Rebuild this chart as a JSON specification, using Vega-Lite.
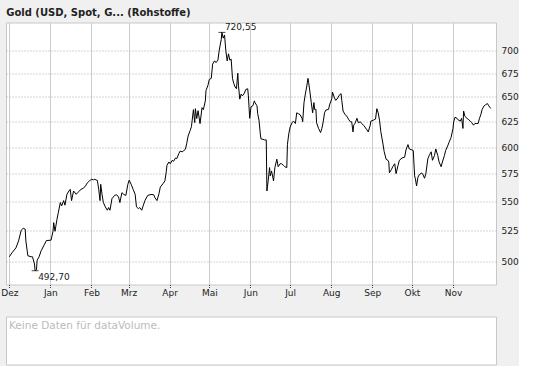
{
  "$schema": "https://vega.github.io/schema/vega-lite/v6.json",
  "background": "#f0f0f0",
  "padding": {"left": 0, "top": 7.5, "right": 0, "bottom": 0},
  "title": {"text": "Gold (USD, Spot, G... (Rohstoffe)", "anchor": "start", "dx": 6, "font": "DejaVu Sans", "fontSize": 10, "fontWeight": "bold", "color": "#222222", "offset": 4},
  "config": {
    "font": "DejaVu Sans",
    "view": {"stroke": "#c8c8c8", "fill": "white"}
  },
  "spacing": 18,
  "datasets": {
    "gold": [
      {"t": "2005-12-01", "v": 503.8}, {"t": "2005-12-03", "v": 507}, {"t": "2005-12-06", "v": 511}, {"t": "2005-12-08", "v": 516.7},
      {"t": "2005-12-10", "v": 525.6}, {"t": "2005-12-11T12:00Z", "v": 527.2}, {"t": "2005-12-13", "v": 526.5}, {"t": "2005-12-13T12:00Z", "v": 516.7},
      {"t": "2005-12-14T12:00Z", "v": 508.6}, {"t": "2005-12-15", "v": 504.6}, {"t": "2005-12-17T12:00Z", "v": 503.8}, {"t": "2005-12-18T12:00Z", "v": 503.8},
      {"t": "2005-12-20", "v": 498}, {"t": "2005-12-20T12:00Z", "v": 492.7}, {"t": "2005-12-21T12:00Z", "v": 493.4}, {"t": "2005-12-22", "v": 501},
      {"t": "2005-12-23T12:00Z", "v": 503.8}, {"t": "2005-12-25", "v": 508.6}, {"t": "2005-12-27", "v": 512.7}, {"t": "2005-12-29", "v": 517},
      {"t": "2006-01-01T12:00Z", "v": 517.3}, {"t": "2006-01-03", "v": 524.7}, {"t": "2006-01-03T12:00Z", "v": 532}, {"t": "2006-01-04T12:00Z", "v": 524.7},
      {"t": "2006-01-06", "v": 534.9}, {"t": "2006-01-07", "v": 540.6}, {"t": "2006-01-08T12:00Z", "v": 549.3}, {"t": "2006-01-09T12:00Z", "v": 546.3},
      {"t": "2006-01-11", "v": 551}, {"t": "2006-01-12", "v": 547}, {"t": "2006-01-13T12:00Z", "v": 556.6}, {"t": "2006-01-15", "v": 559.5},
      {"t": "2006-01-16", "v": 561}, {"t": "2006-01-17", "v": 551}, {"t": "2006-01-18T12:00Z", "v": 559.5}, {"t": "2006-01-20T12:00Z", "v": 556.6},
      {"t": "2006-01-21T12:00Z", "v": 558}, {"t": "2006-01-23", "v": 559.5}, {"t": "2006-01-24", "v": 561}, {"t": "2006-01-26", "v": 562},
      {"t": "2006-01-27T12:00Z", "v": 564}, {"t": "2006-01-29", "v": 567}, {"t": "2006-01-30T12:00Z", "v": 568.6},
      {"t": "2006-02-01", "v": 570}, {"t": "2006-02-02T12:00Z", "v": 569.6}, {"t": "2006-02-03T12:00Z", "v": 570}, {"t": "2006-02-05T12:00Z", "v": 569},
      {"t": "2006-02-06T12:00Z", "v": 561}, {"t": "2006-02-07T12:00Z", "v": 551}, {"t": "2006-02-08", "v": 565.5}, {"t": "2006-02-09", "v": 556.6},
      {"t": "2006-02-10", "v": 549.3}, {"t": "2006-02-11T12:00Z", "v": 545.5}, {"t": "2006-02-13", "v": 542.6}, {"t": "2006-02-14", "v": 544.9},
      {"t": "2006-02-15", "v": 542.6}, {"t": "2006-02-16T12:00Z", "v": 552.7}, {"t": "2006-02-18T12:00Z", "v": 555.6}, {"t": "2006-02-20", "v": 556.2},
      {"t": "2006-02-21T12:00Z", "v": 554.1}, {"t": "2006-02-22T12:00Z", "v": 549.3}, {"t": "2006-02-24", "v": 558}, {"t": "2006-02-25T12:00Z", "v": 556.4},
      {"t": "2006-02-27", "v": 555.6}, {"t": "2006-02-28T12:00Z", "v": 565.5},
      {"t": "2006-03-01T12:00Z", "v": 569.2}, {"t": "2006-03-03", "v": 565.5}, {"t": "2006-03-04T12:00Z", "v": 561}, {"t": "2006-03-06", "v": 556.6},
      {"t": "2006-03-07", "v": 545.5}, {"t": "2006-03-08T12:00Z", "v": 544}, {"t": "2006-03-09T12:00Z", "v": 544.9}, {"t": "2006-03-11", "v": 542.6},
      {"t": "2006-03-12", "v": 546.3}, {"t": "2006-03-13T12:00Z", "v": 551.3}, {"t": "2006-03-15T12:00Z", "v": 555.6}, {"t": "2006-03-18", "v": 556.4},
      {"t": "2006-03-20", "v": 556.2}, {"t": "2006-03-21", "v": 553.5}, {"t": "2006-03-22T12:00Z", "v": 551}, {"t": "2006-03-24", "v": 557.1},
      {"t": "2006-03-25", "v": 563}, {"t": "2006-03-27", "v": 566}, {"t": "2006-03-28T12:00Z", "v": 568.6}, {"t": "2006-03-29T12:00Z", "v": 577},
      {"t": "2006-03-30", "v": 582.8}, {"t": "2006-03-31T12:00Z", "v": 586},
      {"t": "2006-04-01T12:00Z", "v": 584.4}, {"t": "2006-04-03", "v": 587.6}, {"t": "2006-04-04", "v": 586.6}, {"t": "2006-04-05T12:00Z", "v": 589.8},
      {"t": "2006-04-06T12:00Z", "v": 589.2}, {"t": "2006-04-08", "v": 594}, {"t": "2006-04-09", "v": 596.3}, {"t": "2006-04-10T12:00Z", "v": 595.6},
      {"t": "2006-04-11T12:00Z", "v": 596.3}, {"t": "2006-04-13", "v": 598.3}, {"t": "2006-04-14", "v": 603.9}, {"t": "2006-04-15", "v": 610.8},
      {"t": "2006-04-16T12:00Z", "v": 616}, {"t": "2006-04-17T12:00Z", "v": 620}, {"t": "2006-04-19", "v": 637}, {"t": "2006-04-20", "v": 624},
      {"t": "2006-04-20T12:00Z", "v": 638}, {"t": "2006-04-21T12:00Z", "v": 628}, {"t": "2006-04-22T12:00Z", "v": 636}, {"t": "2006-04-24", "v": 623},
      {"t": "2006-04-25T12:00Z", "v": 639}, {"t": "2006-04-26T12:00Z", "v": 637}, {"t": "2006-04-28", "v": 646}, {"t": "2006-04-28T12:00Z", "v": 656.7},
      {"t": "2006-04-30", "v": 662.3},
      {"t": "2006-05-01", "v": 668.5}, {"t": "2006-05-02T12:00Z", "v": 669.6}, {"t": "2006-05-03T12:00Z", "v": 685}, {"t": "2006-05-05", "v": 688.6},
      {"t": "2006-05-06", "v": 686.7}, {"t": "2006-05-07T12:00Z", "v": 689.3}, {"t": "2006-05-08T12:00Z", "v": 700.5}, {"t": "2006-05-10", "v": 712.3},
      {"t": "2006-05-10T12:00Z", "v": 720.55}, {"t": "2006-05-11T12:00Z", "v": 714}, {"t": "2006-05-12T12:00Z", "v": 717.5}, {"t": "2006-05-13T12:00Z", "v": 699.5},
      {"t": "2006-05-14T12:00Z", "v": 688.6}, {"t": "2006-05-15T12:00Z", "v": 696.3}, {"t": "2006-05-16T12:00Z", "v": 689.3}, {"t": "2006-05-17T12:00Z", "v": 690.5},
      {"t": "2006-05-18T12:00Z", "v": 669.6}, {"t": "2006-05-19T12:00Z", "v": 664}, {"t": "2006-05-20T12:00Z", "v": 660.4}, {"t": "2006-05-21T12:00Z", "v": 658.6},
      {"t": "2006-05-22T12:00Z", "v": 675.2}, {"t": "2006-05-23", "v": 662.3}, {"t": "2006-05-24", "v": 647.8}, {"t": "2006-05-25", "v": 653},
      {"t": "2006-05-26", "v": 651.2}, {"t": "2006-05-27T12:00Z", "v": 654}, {"t": "2006-05-28T12:00Z", "v": 657.8}, {"t": "2006-05-30", "v": 658.6},
      {"t": "2006-05-30T12:00Z", "v": 651.2}, {"t": "2006-05-31T12:00Z", "v": 628.3},
      {"t": "2006-06-01T12:00Z", "v": 639.8}, {"t": "2006-06-03", "v": 641.2}, {"t": "2006-06-04", "v": 646}, {"t": "2006-06-04T12:00Z", "v": 644.2},
      {"t": "2006-06-06", "v": 640.9}, {"t": "2006-06-06T12:00Z", "v": 633.3}, {"t": "2006-06-07T12:00Z", "v": 626.5}, {"t": "2006-06-08T12:00Z", "v": 612.8},
      {"t": "2006-06-09", "v": 608}, {"t": "2006-06-10T12:00Z", "v": 607.6}, {"t": "2006-06-11T12:00Z", "v": 607}, {"t": "2006-06-13", "v": 607},
      {"t": "2006-06-13T12:00Z", "v": 559.5}, {"t": "2006-06-14T12:00Z", "v": 569.2}, {"t": "2006-06-15T12:00Z", "v": 580.8}, {"t": "2006-06-16", "v": 573.1},
      {"t": "2006-06-17", "v": 577.7}, {"t": "2006-06-18T12:00Z", "v": 568.6}, {"t": "2006-06-19T12:00Z", "v": 580.8}, {"t": "2006-06-21", "v": 588.6},
      {"t": "2006-06-22", "v": 581.6}, {"t": "2006-06-23T12:00Z", "v": 584.4}, {"t": "2006-06-24T12:00Z", "v": 584.4}, {"t": "2006-06-26", "v": 582.8},
      {"t": "2006-06-27", "v": 581.6}, {"t": "2006-06-28T12:00Z", "v": 580.8}, {"t": "2006-06-29", "v": 602.8}, {"t": "2006-06-30", "v": 612.8},
      {"t": "2006-07-01", "v": 619.6}, {"t": "2006-07-02T12:00Z", "v": 623.8}, {"t": "2006-07-03T12:00Z", "v": 625.5}, {"t": "2006-07-05", "v": 623.1},
      {"t": "2006-07-06", "v": 633.8}, {"t": "2006-07-07T12:00Z", "v": 632.7}, {"t": "2006-07-08T12:00Z", "v": 632}, {"t": "2006-07-10", "v": 628.3},
      {"t": "2006-07-10T12:00Z", "v": 624.8}, {"t": "2006-07-11T12:00Z", "v": 644.2}, {"t": "2006-07-12T12:00Z", "v": 653}, {"t": "2006-07-13T12:00Z", "v": 660.4},
      {"t": "2006-07-14T12:00Z", "v": 669.6}, {"t": "2006-07-15", "v": 665.2}, {"t": "2006-07-16", "v": 655.1}, {"t": "2006-07-17", "v": 644.2},
      {"t": "2006-07-18", "v": 633.8}, {"t": "2006-07-19", "v": 644.2}, {"t": "2006-07-19T12:00Z", "v": 637.3}, {"t": "2006-07-20T12:00Z", "v": 637.3},
      {"t": "2006-07-21", "v": 623.8}, {"t": "2006-07-22T12:00Z", "v": 618.2}, {"t": "2006-07-24", "v": 614.2}, {"t": "2006-07-25", "v": 618.2},
      {"t": "2006-07-26", "v": 624.8}, {"t": "2006-07-27", "v": 633.8}, {"t": "2006-07-28", "v": 636.6}, {"t": "2006-07-30", "v": 637.3},
      {"t": "2006-07-31", "v": 642.7},
      {"t": "2006-08-01T12:00Z", "v": 648.3}, {"t": "2006-08-02", "v": 655.1}, {"t": "2006-08-03T12:00Z", "v": 649}, {"t": "2006-08-04T12:00Z", "v": 646.5},
      {"t": "2006-08-06", "v": 649}, {"t": "2006-08-07", "v": 651.7}, {"t": "2006-08-08T12:00Z", "v": 653.5}, {"t": "2006-08-09", "v": 646.5},
      {"t": "2006-08-10", "v": 635.6}, {"t": "2006-08-11T12:00Z", "v": 632}, {"t": "2006-08-13", "v": 630.2}, {"t": "2006-08-14", "v": 627.5},
      {"t": "2006-08-15T12:00Z", "v": 624.8}, {"t": "2006-08-16T12:00Z", "v": 624.8}, {"t": "2006-08-17T12:00Z", "v": 614.8}, {"t": "2006-08-18", "v": 621.4},
      {"t": "2006-08-19", "v": 623.1}, {"t": "2006-08-20T12:00Z", "v": 628.3}, {"t": "2006-08-21T12:00Z", "v": 623.8}, {"t": "2006-08-23", "v": 624.8},
      {"t": "2006-08-24", "v": 623.1}, {"t": "2006-08-25T12:00Z", "v": 621.4}, {"t": "2006-08-26T12:00Z", "v": 619.6}, {"t": "2006-08-28", "v": 616.9},
      {"t": "2006-08-29", "v": 614.8}, {"t": "2006-08-30T12:00Z", "v": 621.4}, {"t": "2006-08-31", "v": 625.5},
      {"t": "2006-09-02", "v": 626.5}, {"t": "2006-09-03T12:00Z", "v": 627.5}, {"t": "2006-09-04T12:00Z", "v": 638}, {"t": "2006-09-05T12:00Z", "v": 633.8},
      {"t": "2006-09-06T12:00Z", "v": 626.5}, {"t": "2006-09-07T12:00Z", "v": 615}, {"t": "2006-09-09", "v": 604}, {"t": "2006-09-10", "v": 596},
      {"t": "2006-09-11T12:00Z", "v": 588.5}, {"t": "2006-09-12T12:00Z", "v": 588}, {"t": "2006-09-13T12:00Z", "v": 586}, {"t": "2006-09-14", "v": 576},
      {"t": "2006-09-15T12:00Z", "v": 579}, {"t": "2006-09-16T12:00Z", "v": 581.6}, {"t": "2006-09-18", "v": 584.4}, {"t": "2006-09-19", "v": 575.2},
      {"t": "2006-09-20T12:00Z", "v": 582.8}, {"t": "2006-09-21T12:00Z", "v": 587.6}, {"t": "2006-09-23T12:00Z", "v": 589.8}, {"t": "2006-09-25T12:00Z", "v": 590.5},
      {"t": "2006-09-26T12:00Z", "v": 597.4}, {"t": "2006-09-28", "v": 602.5}, {"t": "2006-09-29", "v": 598.3},
      {"t": "2006-10-01", "v": 597.4}, {"t": "2006-10-02", "v": 596.8}, {"t": "2006-10-03", "v": 573.2}, {"t": "2006-10-03T12:00Z", "v": 571},
      {"t": "2006-10-04T12:00Z", "v": 564.1}, {"t": "2006-10-05T12:00Z", "v": 571.9}, {"t": "2006-10-06T12:00Z", "v": 574.2}, {"t": "2006-10-08", "v": 575.7},
      {"t": "2006-10-09", "v": 575.2}, {"t": "2006-10-10T12:00Z", "v": 571}, {"t": "2006-10-11T12:00Z", "v": 575.2}, {"t": "2006-10-13", "v": 589},
      {"t": "2006-10-14", "v": 592}, {"t": "2006-10-15T12:00Z", "v": 595.6}, {"t": "2006-10-16T12:00Z", "v": 587.6}, {"t": "2006-10-18", "v": 592},
      {"t": "2006-10-19", "v": 598.3}, {"t": "2006-10-20T12:00Z", "v": 592}, {"t": "2006-10-21T12:00Z", "v": 586}, {"t": "2006-10-23", "v": 581.6},
      {"t": "2006-10-24", "v": 586}, {"t": "2006-10-25T12:00Z", "v": 592}, {"t": "2006-10-26T12:00Z", "v": 597}, {"t": "2006-10-28", "v": 601.3},
      {"t": "2006-10-29", "v": 604.7}, {"t": "2006-10-30T12:00Z", "v": 609.2},
      {"t": "2006-11-01", "v": 618.2}, {"t": "2006-11-01T12:00Z", "v": 624.8}, {"t": "2006-11-02T12:00Z", "v": 629.4}, {"t": "2006-11-04", "v": 628.3},
      {"t": "2006-11-05", "v": 626.5}, {"t": "2006-11-06T12:00Z", "v": 625.5}, {"t": "2006-11-07T12:00Z", "v": 628.3}, {"t": "2006-11-08T12:00Z", "v": 618.2},
      {"t": "2006-11-09", "v": 635.6}, {"t": "2006-11-10", "v": 630.2}, {"t": "2006-11-11T12:00Z", "v": 628.3}, {"t": "2006-11-12T12:00Z", "v": 627.3},
      {"t": "2006-11-14", "v": 625.5}, {"t": "2006-11-15", "v": 624.1}, {"t": "2006-11-16T12:00Z", "v": 621.4}, {"t": "2006-11-17T12:00Z", "v": 623.1},
      {"t": "2006-11-19", "v": 623.1}, {"t": "2006-11-20", "v": 623.1}, {"t": "2006-11-21", "v": 628.3}, {"t": "2006-11-22", "v": 632},
      {"t": "2006-11-23", "v": 637.3}, {"t": "2006-11-24T12:00Z", "v": 640.9}, {"t": "2006-11-25T12:00Z", "v": 642}, {"t": "2006-11-27", "v": 643.2},
      {"t": "2006-11-28", "v": 640.9}, {"t": "2006-11-29T12:00Z", "v": 638.2}
    ],
    "ext": [
      {"t": "2006-05-10T12:00Z", "v": 720.55, "label": "720,55", "kind": "max"},
      {"t": "2005-12-20T12:00Z", "v": 492.7, "label": "492,70", "kind": "min"}
    ],
    "vol": [
      {"px": 0, "py": 1, "msg": "Keine Daten für dataVolume."}
    ]
  },
  "vconcat": [
    {
      "width": 490,
      "height": 262,
      "encoding": {
        "x": {
          "field": "t", "type": "temporal",
          "scale": {"type": "utc", "domain": [
            {"year": 2005, "month": 11, "date": 28, "hours": 12, "utc": true},
            {"year": 2006, "month": 12, "date": 3, "hours": 11, "utc": true}
          ]},
          "axis": {
            "title": null,
            "values": [
              {"year": 2005, "month": 12, "date": 1, "utc": true},
              {"year": 2006, "month": 1, "date": 1, "utc": true},
              {"year": 2006, "month": 2, "date": 1, "utc": true},
              {"year": 2006, "month": 3, "date": 1, "utc": true},
              {"year": 2006, "month": 4, "date": 1, "utc": true},
              {"year": 2006, "month": 5, "date": 1, "utc": true},
              {"year": 2006, "month": 6, "date": 1, "utc": true},
              {"year": 2006, "month": 7, "date": 1, "utc": true},
              {"year": 2006, "month": 8, "date": 1, "utc": true},
              {"year": 2006, "month": 9, "date": 1, "utc": true},
              {"year": 2006, "month": 10, "date": 1, "utc": true},
              {"year": 2006, "month": 11, "date": 1, "utc": true}
            ],
            "labelExpr": "['Jan','Feb','Mrz','Apr','Mai','Jun','Jul','Aug','Sep','Okt','Nov','Dez'][utcmonth(datum.value)]",
            "grid": true, "gridColor": "#cccccc", "gridWidth": 1,
            "domain": false,
            "ticks": true, "tickSize": 4, "tickColor": "#444444", "tickDash": [1, 1],
            "labelFontSize": 9, "labelColor": "#222222", "labelPadding": -0.5, "labelFont": "DejaVu Sans"
          }
        },
        "y": {
          "field": "v", "type": "quantitative",
          "scale": {"type": "log", "domain": [482, 732], "nice": false},
          "axis": {
            "orient": "right", "title": null,
            "values": [500, 525, 550, 575, 600, 625, 650, 675, 700],
            "grid": true, "gridColor": "#aaaaaa", "gridDash": [1, 2], "gridWidth": 1,
            "domain": false, "ticks": false, "labelPadding": 5,
            "labelFontSize": 9, "labelColor": "#222222", "labelFont": "DejaVu Sans"
          }
        }
      },
      "layer": [
        {
          "data": {"name": "gold"},
          "mark": {"type": "line", "color": "#000000", "strokeWidth": 1},
          "encoding": {}
        },
        {
          "data": {"name": "ext"},
          "mark": {"type": "tick", "orient": "horizontal", "size": 7, "thickness": 1, "color": "#000000"},
          "encoding": {}
        },
        {
          "data": {"name": "ext"},
          "transform": [{"filter": "datum.kind == 'max'"}],
          "mark": {"type": "text", "align": "left", "baseline": "bottom", "dx": 3, "dy": 0, "fontSize": 9, "color": "#222222"},
          "encoding": {"text": {"field": "label"}}
        },
        {
          "data": {"name": "ext"},
          "transform": [{"filter": "datum.kind == 'min'"}],
          "mark": {"type": "text", "align": "left", "baseline": "top", "dx": 3, "dy": 2, "fontSize": 9, "color": "#222222"},
          "encoding": {"text": {"field": "label"}}
        }
      ]
    },
    {
      "width": 490,
      "height": 48,
      "data": {"name": "vol"},
      "mark": {"type": "text", "align": "left", "baseline": "top", "dx": 3, "dy": 4, "fontSize": 10.5, "color": "#bbbbbb"},
      "encoding": {
        "x": {"field": "px", "type": "quantitative", "scale": {"domain": [0, 1]}, "axis": null},
        "y": {"field": "py", "type": "quantitative", "scale": {"domain": [0, 1]}, "axis": null},
        "text": {"field": "msg"}
      }
    }
  ]
}
